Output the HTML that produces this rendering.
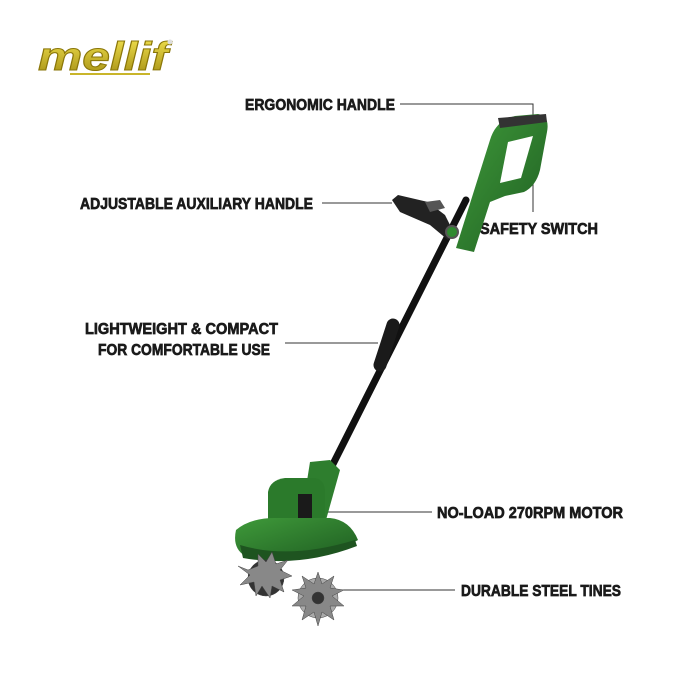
<!DOCTYPE html>
<html><head><style>
html,body{margin:0;padding:0;background:#fff;}
svg{display:block}
text.l{font-family:"Liberation Sans",sans-serif;font-weight:bold;fill:#1a1a1a;stroke:#1a1a1a;stroke-width:0.7;}
</style></head><body>
<svg width="700" height="700" viewBox="0 0 700 700" xmlns="http://www.w3.org/2000/svg">
<defs>
<linearGradient id="gold" x1="0" y1="0" x2="0" y2="1"><stop offset="0" stop-color="#f4e450"/><stop offset="1" stop-color="#a08a10"/></linearGradient>
<linearGradient id="grn" x1="0" y1="0" x2="1" y2="1"><stop offset="0" stop-color="#3f9a3a"/><stop offset="1" stop-color="#1f5e22"/></linearGradient>
</defs>
<text x="38" y="70" font-size="40" font-weight="bold" font-style="italic" style="font-family:'Liberation Sans',sans-serif;fill:url(#gold);stroke:#8a7608;stroke-width:1" textLength="130" lengthAdjust="spacingAndGlyphs">mellif</text>
<line x1="70" y1="74" x2="150" y2="74" stroke="#c9b52a" stroke-width="2"/>
<circle cx="170" cy="42" r="2.5" fill="#ddd"/>

<text class="l" x="245" y="110" font-size="16" textLength="150" lengthAdjust="spacingAndGlyphs">ERGONOMIC HANDLE</text>
<text class="l" x="80" y="209" font-size="16" textLength="233" lengthAdjust="spacingAndGlyphs">ADJUSTABLE AUXILIARY HANDLE</text>
<text class="l" x="480" y="234" font-size="16" textLength="118" lengthAdjust="spacingAndGlyphs">SAFETY SWITCH</text>
<text class="l" x="85" y="334" font-size="16" textLength="193" lengthAdjust="spacingAndGlyphs">LIGHTWEIGHT &amp; COMPACT</text>
<text class="l" x="98" y="355" font-size="16" textLength="172" lengthAdjust="spacingAndGlyphs">FOR COMFORTABLE USE</text>
<text class="l" x="437" y="518" font-size="16" textLength="186" lengthAdjust="spacingAndGlyphs">NO-LOAD 270RPM MOTOR</text>
<text class="l" x="461" y="596" font-size="16" textLength="160" lengthAdjust="spacingAndGlyphs">DURABLE STEEL TINES</text>

<g stroke="#333" stroke-width="1" fill="none">
<polyline points="400,104 533,104 533,212"/>
<line x1="322" y1="203" x2="392" y2="203"/>
<line x1="285" y1="343" x2="378" y2="343"/>
<line x1="322" y1="512" x2="432" y2="512"/>
<line x1="330" y1="590" x2="455" y2="590"/>
</g>

<line x1="466" y1="200" x2="330" y2="470" stroke="#111" stroke-width="7" stroke-linecap="round"/>
<line x1="393" y1="325" x2="380" y2="365" stroke="#1a1a1a" stroke-width="13" stroke-linecap="round"/>
<path d="M456,248 L490,140 Q496,120 515,116 L538,114 Q550,116 547,132 L540,170 Q536,186 524,192 L505,196 L490,202 L474,252 Z" fill="url(#grn)"/>
<path d="M508,142 L533,136 L521,178 L500,183 Z" fill="#fff"/>
<path d="M498,118 L546,114 L547,122 L500,128 Z" fill="#333"/>
<path d="M392,200 L398,195 L428,202 L445,215 L455,235 L448,240 L430,225 L400,212 Z" fill="#222"/>
<path d="M425,202 L440,200 L445,208 L430,212 Z" fill="#555"/>
<circle cx="452" cy="232" r="6" fill="#2f8a2f" stroke="#555" stroke-width="2"/>
<path d="M310,462 L330,460 L340,470 L326,520 L300,525 Z" fill="#2e7e2e"/>
<path d="M268,492 Q270,480 285,478 L315,478 Q325,480 325,492 L325,520 L268,522 Z" fill="#2b7a2b"/>
<rect x="298" y="494" width="14" height="26" fill="#1a1a1a"/>
<path d="M236,530 Q250,518 275,518 L330,518 Q350,520 358,540 Q345,548 320,552 Q290,560 245,556 Q232,548 236,530 Z" fill="url(#grn)"/>
<path d="M240,545 Q290,560 355,540 L357,546 Q300,568 243,558 Z" fill="#1e5420"/>
<g fill="#888" stroke="#444" stroke-width="0.5">
<circle cx="266" cy="578" r="18" fill="#333"/>
<polygon points="248,570 238,566 250,575 240,585 254,582 256,596 262,586 270,598 272,586 284,592 280,580 292,576 280,570 288,560 276,564 272,552 266,562 258,554 258,566"/>
<circle cx="318" cy="598" r="20" fill="#aaa"/>
<polygon points="318,572 322,584 334,576 330,588 344,590 332,596 344,606 330,606 334,620 322,612 318,626 314,612 302,620 306,606 292,606 304,596 292,590 306,588 302,576 314,584"/>
<circle cx="318" cy="598" r="6" fill="#333"/>
</g>
</svg>
</body></html>
